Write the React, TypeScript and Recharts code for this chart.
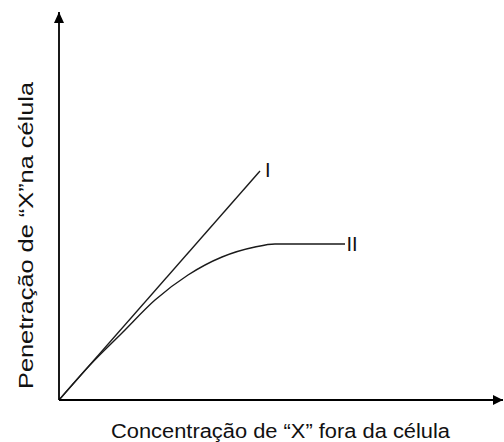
import { LineChart, Line, XAxis, YAxis, ReferenceDot } from 'recharts';

// values in arbitrary units
const concI = [0, 201];
const penI = [0, 229];
const concII = [0, 31, 63, 96, 129, 163, 196, 216, 286];
const penII = [0, 35, 67, 100, 125, 143, 153, 156, 156];

const xLabel = 'Concentração de “X” fora da célula';
const yLabel = 'Penetração de “X”na célula';

const FONT = '"Liberation Sans", Arial, sans-serif';

const dataI = concI.map((c, i) => ({ conc: c, pen: penI[i] }));
const dataII = concII.map((c, i) => ({ conc: c, pen: penII[i] }));

const XLabel = ({ viewBox }: any) => (
  <text x={viewBox.x + viewBox.width / 2 - 0.5} y={viewBox.y + 38} textAnchor="middle"
    fontFamily={FONT} fontSize={20} fill="#111" textLength={339} lengthAdjust="spacingAndGlyphs">
    {xLabel}
  </text>
);

const YLabel = ({ viewBox }: any) => {
  const cx = 33;
  const cy = viewBox.y + viewBox.height / 2 + 29.5;
  return (
    <text x={cx} y={cy} transform={`rotate(-90 ${cx} ${cy})`} textAnchor="middle"
      fontFamily={FONT} fontSize={20} fill="#111" textLength={307} lengthAdjust="spacingAndGlyphs">
      {yLabel}
    </text>
  );
};

const RightArrow = ({ cx, cy }: any) => (
  <polygon points={`${cx},${cy} ${cx - 10},${cy - 5} ${cx - 10},${cy + 5}`} fill="#000" />
);

const UpArrow = ({ cx, cy }: any) => (
  <polygon points={`${cx},${cy} ${cx - 5},${cy + 11} ${cx + 5},${cy + 11}`} fill="#000" />
);

const endLabel = (text: string, dx: number, dy: number) => ({ cx, cy }: any) => (
  <text x={cx + dx} y={cy + dy} dominantBaseline="central" fontFamily={FONT} fontSize={20} fill="#111">
    {text}
  </text>
);

export default function App() {
  return (
    <div style={{ position: 'absolute', left: 0, top: 0, background: '#fff' }}>
      <LineChart width={504} height={442} margin={{ top: 12, right: 1, left: 0, bottom: 0 }}>
        <XAxis type="number" dataKey="conc" domain={[0, 444]} allowDataOverflow
          tick={false} tickLine={false} height={42}
          axisLine={{ stroke: '#000', strokeWidth: 1.8 }} label={<XLabel />} />
        <YAxis type="number" dataKey="pen" domain={[0, 388]} allowDataOverflow
          tick={false} tickLine={false} width={59}
          axisLine={{ stroke: '#000', strokeWidth: 1.8 }} label={<YLabel />} />
        <Line data={dataI} dataKey="pen" type="linear" stroke="#1a1a1a" strokeWidth={1.4}
          dot={false} isAnimationActive={false} />
        <Line data={dataII} dataKey="pen" type="monotone" stroke="#1a1a1a" strokeWidth={1.4}
          dot={false} isAnimationActive={false} />
        <ReferenceDot x={concI[concI.length - 1]} y={penI[penI.length - 1]} r={0} ifOverflow="visible"
          shape={endLabel('I', 5, -1)} />
        <ReferenceDot x={concII[concII.length - 1]} y={penII[penII.length - 1]} r={0} ifOverflow="visible"
          shape={endLabel('II', 1.5, -0.5)} />
        <ReferenceDot x={444} y={0} ifOverflow="visible" shape={<RightArrow />} />
        <ReferenceDot x={0} y={388} ifOverflow="visible" shape={<UpArrow />} />
      </LineChart>
    </div>
  );
}
